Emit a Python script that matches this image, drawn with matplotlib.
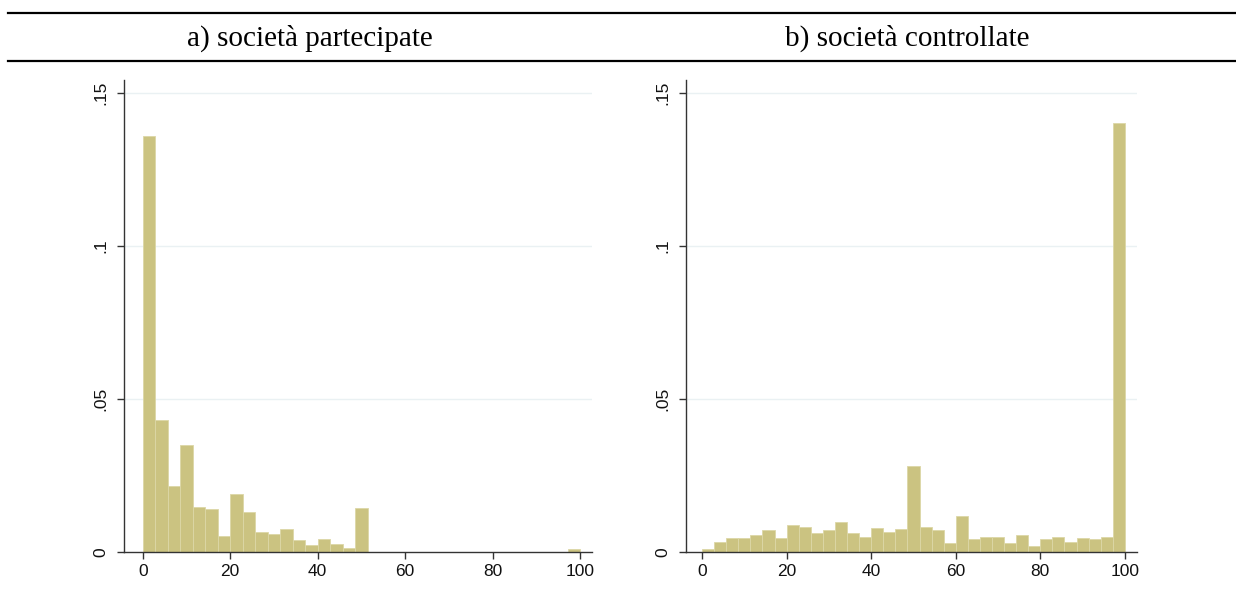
import numpy as np
import matplotlib.pyplot as plt
from matplotlib.lines import Line2D

# 35 classi da 0 a 100 (quota di partecipazione, %)
bordi = np.linspace(0, 100, 36)

# densità - a) società partecipate
dens_partecipate = [0.1361, 0.0431, 0.0216, 0.0349, 0.0147, 0.0140, 0.0052, 0.0188,
                    0.0129, 0.0064, 0.0058, 0.0075, 0.0038, 0.0021, 0.0043, 0.0024,
                    0.0013, 0.0144, 0, 0, 0, 0, 0, 0, 0, 0, 0, 0, 0, 0, 0, 0, 0, 0,
                    0.0008]

# densità - b) società controllate
dens_controllate = [0.0008, 0.0033, 0.0044, 0.0044, 0.0055, 0.0070, 0.0044, 0.0086,
                    0.0081, 0.0060, 0.0070, 0.0098, 0.0060, 0.0048, 0.0079, 0.0064,
                    0.0073, 0.0281, 0.0081, 0.0070, 0.0029, 0.0117, 0.0040, 0.0047,
                    0.0049, 0.0028, 0.0055, 0.0020, 0.0040, 0.0049, 0.0033, 0.0044,
                    0.0041, 0.0049, 0.1402]

titoli = ['a) società partecipate', 'b) società controllate']
yticks = [0, 0.05, 0.1, 0.15]
yticklabels = ['0', '.05', '.1', '.15']
xticks = [0, 20, 40, 60, 80, 100]

colore = '#cbc381'
fig = plt.figure(figsize=(12.36, 5.96), dpi=100)

posizioni = [[0.1003, 0.0743, 0.3786, 0.7915], [0.5548, 0.0743, 0.3649, 0.7915]]
xlims = [(-4.28, 102.7), (-3.85, 102.8)]
centri_titolo = [310 / 1236, 907 / 1236]

for i, dens in enumerate([dens_partecipate, dens_controllate]):
    ax = fig.add_axes(posizioni[i])
    ax.bar(bordi[:-1], dens, width=np.diff(bordi), align='edge',
           color=colore, edgecolor='#dcd7a6', linewidth=0.6, zorder=2)
    ax.set_xlim(*xlims[i])
    ax.set_ylim(0, 0.1543)
    ax.set_yticks(yticks)
    ax.set_yticklabels(yticklabels, rotation=90, va='center')
    ax.set_xticks(xticks)
    for y in yticks[1:]:
        ax.axhline(y, color='#eaf1f3', linewidth=1, zorder=1)
    for s in ['top', 'right']:
        ax.spines[s].set_visible(False)
    for s in ['left', 'bottom']:
        ax.spines[s].set_color('#333333')
        ax.spines[s].set_linewidth(1)
    ax.tick_params(axis='both', length=5, width=1, color='#333333',
                   labelsize=12.5, labelcolor='#111111', pad=4)
    ax.tick_params(axis='y', pad=6)
    for lab in ax.get_xticklabels() + ax.get_yticklabels():
        lab.set_family('Liberation Sans')
    fig.text(centri_titolo[i], 1 - 38 / 596, titoli[i], ha='center', va='center',
             fontsize=21, family='Liberation Serif')

# righe orizzontali dell'intestazione
for y in [13, 61]:
    fig.add_artist(Line2D([8 / 1236, 1], [1 - y / 596] * 2, color='black', linewidth=1.6))

fig.savefig('out.png', dpi=100)
